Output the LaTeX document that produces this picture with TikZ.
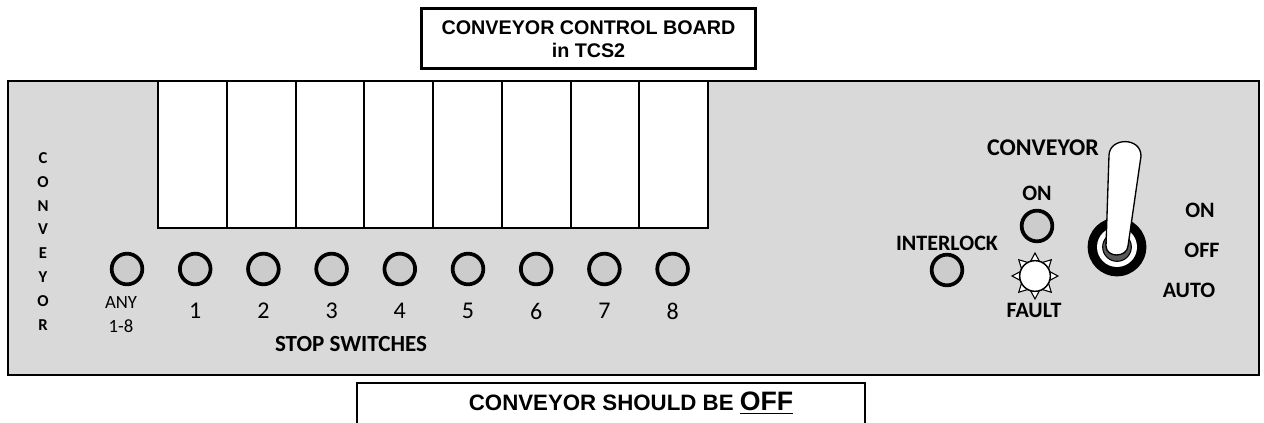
\documentclass[tikz,border=0pt]{standalone}
\usepackage{fontspec}
\setmainfont{Carlito}
\newfontfamily\arialfont{Liberation Sans}
\definecolor{panelgray}{RGB}{217,217,217}
\definecolor{lampgray}{RGB}{204,204,204}
\definecolor{knobgray}{RGB}{89,89,89}

\begin{document}
\begin{tikzpicture}[x=0.75pt, y=-0.75pt,
    lamp/.style={circle, draw, line width=2.8pt, fill=lampgray, inner sep=0pt, minimum size=23pt},
    numlbl/.style={font=\fontsize{18}{20}\selectfont},
    boldlbl/.style={font=\bfseries\fontsize{16.5}{20}\selectfont},
    slotline/.style={line width=1.5pt}]
    \useasboundingbox (0,0) rectangle (1264,423);

    % Board plate
    \draw[line width=1.5pt, fill=panelgray] (8,81) rectangle (1259,375);

    % Blank slots for the stop switch labels
    \foreach \i in {0,...,7} {
        \draw[slotline, fill=white] ({158+68.75*\i},81) rectangle ({158+68.75*(\i+1)},228);
    }

    % Vertical name down the left side
    \foreach \ch [count=\i] in {C,O,N,V,E,Y,O,R} {
        \node[font=\bfseries\fontsize{12.5}{13}\selectfont] (side\i) at (43,{158+23.85*(\i-1)}) {\ch};
    }

    % Stop switch lamps
    \node[lamp] (any) at (127,269) {};
    \node[font=\fontsize{14}{18}\selectfont, align=center] (anylbl) at (121,315) {ANY\\1-8};
    \foreach \i in {1,...,8} {
        \node[lamp] (stop\i) at ({127+68.2*\i},269) {};
        \node[numlbl] (num\i) at ({127+68.2*\i},311) {\i};
    }
    \node[font=\bfseries\fontsize{17.3}{20}\selectfont] (stoplbl) at (351,344) {STOP SWITCHES};

    % Interlock and conveyor lamps
    \node[boldlbl] (ilocklbl) at (947,243) {INTERLOCK};
    \node[lamp] (ilock) at (947,270) {};
    \node[boldlbl] (onlbl) at (1037,193) {ON};
    \node[lamp] (onlamp) at (1037,226) {};
    % fault lamp with rays
    \coordinate (faultc) at (1035,276);
    \draw[line width=0.8pt, fill=white] plot[samples at={0,...,15}]
        ({1035+(18.5+4.5*cos(180*\x))*cos(90+22.5*\x)}, {276-(18.5+4.5*cos(180*\x))*sin(90+22.5*\x)}) -- cycle;
    \node[circle, draw, line width=1.1pt, fill=white, inner sep=0pt, minimum size=23pt] (fault) at (faultc) {};
    \node[boldlbl] (faultlbl) at (1034,310) {FAULT};

    % Selector switch
    \node[font=\bfseries\fontsize{18}{20}\selectfont] (convlbl) at (1043,148) {CONVEYOR};
    \node[circle, fill=black, inner sep=0pt, minimum size=44pt] (toggle) at (1117,247) {};
    \node[circle, fill=white, inner sep=0pt, minimum size=30pt] (ring) at (toggle) {};
    \node[circle, draw, line width=0.8pt, fill=knobgray, inner sep=0pt, minimum size=21.5pt] (knob) at (toggle) {};
    \draw[line width=1pt, fill=white] (1106,246) -- (1109,155)
        .. controls (1110,137) and (1141,137) .. (1141,156) -- (1128,246)
        .. controls (1127,258) and (1106,258) .. cycle;
    \node[boldlbl] (pos1) at (1200,210) {ON};
    \node[boldlbl] (pos2) at (1202,250) {OFF};
    \node[boldlbl] (pos3) at (1189,290) {AUTO};

    % Title box
    \node[draw, line width=2.25pt, fill=white, minimum width=251pt, minimum height=45pt, align=center,
          font=\arialfont\bfseries\fontsize{14.8}{17.3}\selectfont] (title) at (588.5,39)
          {CONVEYOR CONTROL BOARD\\in TCS2};

    % Status box
    \draw[line width=1.2pt] (357,430) |- (865,383) -- (865,430);
    \node[font=\arialfont\bfseries\fontsize{16.7}{20}\selectfont] (status) at (631,403)
          {CONVEYOR SHOULD BE \fontsize{20}{22}\selectfont\underline{OFF}};
\end{tikzpicture}
\end{document}
